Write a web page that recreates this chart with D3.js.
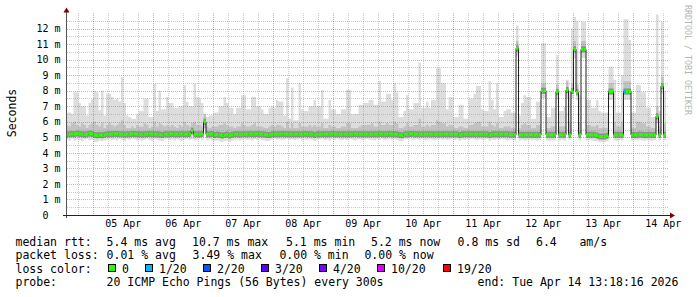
<!DOCTYPE html>
<html>
<head>
<meta charset="utf-8">
<script src="https://cdn.jsdelivr.net/npm/d3@7"></script>
<style>
body { margin: 0; background: #fff; }
svg text { font-family: "DejaVu Sans Mono", monospace; }
</style>
</head>
<body>
<script>
//graph end time and bin length (one bin = 1 hour)
var endTime = Date.UTC(2026, 3, 14, 13, 18, 16),
    spanDays = 10,
    binMs = 3600 * 1000;

//median rtt per bin (ms)
var rttMedian = [
  5.2,5.2,5.22,5.2,5.24,5.22,5.2,5.18,5.2,5.24,
  5.22,5.15,5.13,5.15,5.14,5.16,5.2,5.2,5.2,5.22,
  5.22,5.2,5.2,5.18,5.2,5.2,5.22,5.22,5.2,5.2,
  5.18,5.2,5.2,5.22,5.2,5.2,5.2,5.18,5.15,5.2,
  5.2,5.2,5.22,5.2,5.2,5.2,5.22,5.2,5.2,5.22,
  5.42,5.2,5.2,5.2,5.22,6.0,5.2,5.2,5.22,5.15,
  5.18,5.15,5.12,5.15,5.18,5.12,5.16,5.2,5.2,5.18,
  5.2,5.2,5.2,5.22,5.2,5.2,5.22,5.2,5.2,5.18,
  5.15,5.15,5.2,5.2,5.2,5.2,5.22,5.2,5.2,5.2,
  5.2,5.2,5.2,5.2,5.2,5.22,5.2,5.2,5.2,5.15,
  5.2,5.2,5.2,5.2,5.2,5.2,5.22,5.2,5.2,5.2,
  5.2,5.2,5.2,5.2,5.2,5.22,5.2,5.2,5.2,5.2,
  5.2,5.2,5.2,5.2,5.2,5.22,5.2,5.2,5.2,5.22,
  5.2,5.2,5.2,5.15,5.14,5.2,5.2,5.22,5.22,5.2,
  5.2,5.2,5.2,5.2,5.2,5.2,5.2,5.2,5.2,5.2,
  5.2,5.2,5.2,5.2,5.2,5.2,5.2,5.15,5.2,5.2,
  5.2,5.2,5.2,5.2,5.2,5.2,5.2,5.2,5.2,5.15,
  5.2,5.2,5.2,5.2,5.2,5.2,5.2,5.18,5.18,5.16,
  10.73,5.16,5.16,5.16,5.16,5.16,5.16,5.16,5.16,5.16,
  8.0,8.0,5.16,5.16,5.16,5.16,7.93,5.16,5.16,5.16,
  8.04,5.16,7.98,10.66,7.9,5.16,10.66,10.66,5.16,5.16,
  5.16,5.16,5.12,5.05,5.05,5.05,5.1,7.95,7.95,5.16,
  5.16,5.16,5.16,7.95,7.95,7.95,5.15,5.15,5.15,5.18,
  5.16,5.15,5.15,5.16,5.15,5.15,6.35,5.16,8.3,5.16
];

//highest ping per bin (ms)
var rttMax = [
  6.6,6.6,6.5,7.9,7.9,7.2,7.0,7.0,6.4,7.2,
  7.45,8.0,7.9,6.75,8.0,6.4,7.8,7.8,7.6,7.4,
  7.5,7.3,8.86,7.2,6.4,6.3,6.2,6.2,6.5,6.7,
  6.7,7.5,7.5,6.3,6.3,8.43,6.7,8.0,6.8,6.8,
  7.6,7.2,7.2,6.9,6.9,7.0,7.0,8.37,7.3,7.0,
  7.0,8.47,7.6,7.5,7.2,6.3,6.3,6.4,6.4,6.6,
  6.6,7.0,7.0,7.6,7.2,6.9,6.9,6.5,6.9,6.9,
  7.7,7.7,6.8,6.8,7.6,7.6,7.0,7.0,6.8,6.5,
  6.5,6.9,7.0,6.9,7.4,7.3,7.3,6.4,8.8,6.2,
  8.2,6.1,6.1,8.5,6.8,6.7,6.7,7.0,7.0,7.4,
  7.0,7.0,8.05,6.2,6.2,7.4,6.8,6.8,6.5,6.5,
  6.8,6.8,8.05,8.05,6.5,6.5,6.5,7.1,7.1,7.2,
  7.2,7.4,7.4,7.1,7.1,8.6,7.3,7.3,7.8,7.8,
  7.4,8.5,7.9,6.3,6.3,6.7,7.7,6.8,6.8,7.2,
  7.2,9.8,6.9,6.9,7.3,6.9,7.4,7.4,9.44,9.44,
  8.5,8.5,6.8,7.6,7.6,6.3,6.3,7.1,7.1,6.2,
  6.2,7.5,7.5,7.8,8.3,8.3,6.8,6.7,6.7,8.6,
  7.4,6.8,8.5,6.3,6.3,6.7,6.8,6.8,6.6,6.6,
  12.2,6.4,7.2,7.7,7.6,7.6,6.2,6.2,7.3,7.3,
  11.05,11.05,6.3,6.3,6.9,6.9,10.3,6.7,6.7,7.0,
  8.7,7.9,12.0,12.76,12.5,7.7,12.44,12.44,7.4,7.4,
  6.9,6.9,7.4,6.7,6.6,6.6,6.6,9.54,9.54,8.7,
  6.6,6.6,9.0,12.6,12.6,11.26,6.6,6.6,8.37,8.37,
  7.9,7.9,6.9,6.9,6.3,6.3,12.9,6.7,12.44,8.0
];

//upper edge of the dense smoke per bin (ms)
var rttUpper = [
  5.8,5.7,5.9,6.0,5.8,5.7,5.9,5.8,5.6,5.8,
  5.9,6.0,5.8,5.7,5.9,5.6,5.8,5.9,5.8,5.7,
  5.8,5.9,6.1,5.8,5.6,5.6,5.7,5.6,5.8,5.7,
  5.7,5.9,5.8,5.6,5.7,6.0,5.7,5.9,5.8,5.7,
  5.8,5.7,5.8,5.7,5.6,5.8,5.7,6.0,5.8,5.7,
  5.9,6.0,5.8,5.8,5.7,6.5,5.7,5.6,5.7,5.7,
  5.7,5.8,5.8,5.9,5.8,5.7,5.7,5.6,5.7,5.7,
  5.9,5.8,5.7,5.7,5.8,5.9,5.7,5.7,5.7,5.6,
  5.6,5.7,5.8,5.7,5.8,5.8,5.7,5.6,6.0,5.6,
  5.9,5.6,5.6,5.9,5.7,5.7,5.7,5.8,5.7,5.8,
  5.7,5.7,5.9,5.6,5.6,5.8,5.7,5.7,5.6,5.6,
  5.7,5.7,5.9,5.9,5.6,5.6,5.6,5.7,5.8,5.8,
  5.8,5.8,5.9,5.7,5.7,6.0,5.8,5.8,5.9,5.8,
  5.8,6.0,5.9,5.6,5.6,5.7,5.9,5.7,5.7,5.8,
  5.8,6.2,5.7,5.7,5.8,5.7,5.8,5.8,6.1,6.0,
  5.9,5.9,5.7,5.8,5.8,5.6,5.6,5.7,5.7,5.6,
  5.6,5.8,5.8,5.9,6.0,6.0,5.7,5.7,5.7,6.0,
  5.8,5.7,5.9,5.6,5.6,5.7,5.7,5.7,5.6,5.6,
  11.2,5.6,5.8,5.9,5.8,5.8,5.6,5.6,5.8,5.8,
  8.5,8.5,5.6,5.6,5.7,5.7,8.4,5.7,5.7,5.7,
  8.6,5.9,8.5,11.2,8.4,5.9,11.2,11.2,5.8,5.8,
  5.7,5.7,5.8,5.6,5.6,5.6,5.6,8.5,8.5,6.0,
  5.7,5.7,6.0,8.6,8.6,8.6,5.6,5.6,6.0,6.0,
  5.9,5.9,5.7,5.7,5.6,5.6,7.0,5.7,8.9,5.9
];

//lower edge of the dense smoke per bin (ms)
var rttLower = [
  5.02,5.0,5.03,5.0,5.05,5.02,5.0,4.98,5.0,5.04,
  5.02,4.96,4.94,4.96,4.95,4.97,5.0,5.0,5.0,5.02,
  5.02,5.0,5.0,4.98,5.0,5.0,5.02,5.02,5.0,5.0,
  4.98,5.0,5.0,5.02,5.0,5.0,5.0,4.98,4.96,5.0,
  5.0,5.0,5.02,5.0,5.0,5.0,5.02,5.0,5.0,5.02,
  5.1,5.0,5.0,5.0,5.02,5.6,5.0,5.0,5.02,4.96,
  4.98,4.96,4.93,4.96,4.98,4.93,4.97,5.0,5.0,4.98,
  5.0,5.0,5.0,5.02,5.0,5.0,5.02,5.0,5.0,4.98,
  4.96,4.96,5.0,5.0,5.0,5.0,5.02,5.0,5.0,5.0,
  5.0,5.0,5.0,5.0,5.0,5.02,5.0,5.0,5.0,4.96,
  5.0,5.0,5.0,5.0,5.0,5.0,5.02,5.0,5.0,5.0,
  5.0,5.0,5.0,5.0,5.0,5.02,5.0,5.0,5.0,5.0,
  5.0,5.0,5.0,5.0,5.0,5.02,5.0,5.0,5.0,5.02,
  5.0,5.0,5.0,4.96,4.95,5.0,5.0,5.02,5.02,5.0,
  5.0,5.0,5.0,5.0,5.0,5.0,5.0,5.0,5.0,5.0,
  5.0,5.0,5.0,5.0,5.0,5.0,5.0,4.96,5.0,5.0,
  5.0,5.0,5.0,5.0,5.0,5.0,5.0,5.0,5.0,4.96,
  5.0,5.0,5.0,5.0,5.0,5.0,5.0,4.98,4.98,4.97,
  10.5,4.97,4.97,4.97,4.97,4.97,4.97,4.97,4.97,4.97,
  7.8,7.8,4.97,4.97,4.97,4.97,7.73,4.97,4.97,4.97,
  7.84,4.97,7.78,10.46,7.7,4.97,10.46,10.46,4.97,4.97,
  4.97,4.97,4.93,4.87,4.87,4.87,4.92,7.75,7.75,4.97,
  4.97,4.97,4.97,7.75,7.75,7.75,4.96,4.96,4.96,4.98,
  4.97,4.96,4.96,4.97,4.96,4.96,6.15,4.97,8.1,4.97
];

//lowest ping per bin (ms)
var rttMin = [
  4.85,4.8,4.9,4.78,4.88,4.82,4.75,4.86,4.9,4.8,
  4.84,4.7,4.72,4.78,4.74,4.8,4.85,4.9,4.82,4.86,
  4.8,4.9,4.84,4.76,4.88,4.82,4.9,4.86,4.8,4.84,
  4.78,4.85,4.9,4.82,4.76,4.88,4.84,4.8,4.74,4.86,
  4.9,4.82,4.86,4.8,4.88,4.84,4.78,4.86,4.9,4.84,
  4.88,4.8,4.86,4.9,4.84,5.5,4.82,4.86,4.8,4.76,
  4.8,4.74,4.7,4.76,4.8,4.72,4.78,4.84,4.88,4.8,
  4.86,4.9,4.82,4.86,4.8,4.88,4.84,4.9,4.82,4.8,
  4.76,4.8,4.86,4.9,4.84,4.88,4.82,4.86,4.9,4.84,
  4.88,4.82,4.86,4.9,4.8,4.86,4.84,4.88,4.82,4.76,
  4.84,4.88,4.9,4.82,4.86,4.8,4.88,4.84,4.9,4.86,
  4.82,4.88,4.84,4.9,4.86,4.8,4.84,4.88,4.82,4.86,
  4.9,4.84,4.86,4.8,4.88,4.84,4.9,4.82,4.86,4.88,
  4.84,4.88,4.82,4.76,4.74,4.86,4.88,4.9,4.84,4.86,
  4.88,4.84,4.9,4.82,4.86,4.88,4.84,4.8,4.86,4.9,
  4.84,4.88,4.82,4.86,4.9,4.84,4.88,4.78,4.86,4.82,
  4.88,4.84,4.9,4.86,4.82,4.88,4.84,4.86,4.9,4.78,
  4.86,4.82,4.88,4.84,4.9,4.86,4.8,4.84,4.82,4.78,
  10.2,4.8,4.84,4.78,4.82,4.86,4.8,4.84,4.78,4.82,
  7.5,7.5,4.8,4.76,4.82,4.78,7.4,4.8,4.84,4.78,
  7.5,4.82,7.5,10.1,7.4,4.8,10.1,10.1,4.78,4.82,
  4.8,4.76,4.74,4.68,4.7,4.68,4.74,7.4,7.4,4.8,
  4.78,4.82,4.8,7.4,7.4,7.4,4.78,4.82,4.8,4.84,
  4.8,4.78,4.82,4.8,4.78,4.82,5.9,4.8,7.8,4.82
];

//lost pings (of 20) per bin
var lossCount = [
  0,0,0,0,0,0,0,0,0,0, 0,0,0,0,0,0,0,0,0,0, 0,0,0,0,0,0,0,0,0,0,
  0,0,0,0,0,0,0,0,0,0, 0,0,0,0,0,0,0,0,0,0, 0,0,0,0,0,0,0,0,0,0,
  0,0,0,0,0,0,0,0,0,0, 0,0,0,0,0,0,0,0,0,0, 0,0,0,0,0,0,0,0,0,0,
  0,0,0,0,0,0,0,0,0,0, 0,0,0,0,0,0,0,0,0,0, 0,0,0,0,0,0,0,0,0,0,
  0,0,0,0,0,0,0,0,0,0, 0,0,0,0,0,0,0,0,0,0, 0,0,0,0,0,0,0,0,0,0,
  0,0,0,0,0,0,0,0,0,0, 0,0,0,0,0,0,0,0,0,0, 0,0,0,0,0,0,0,0,0,0,
  0,0,0,0,0,0,0,0,0,0, 0,0,0,0,0,0,0,0,0,0, 0,0,0,0,0,0,0,0,0,0,
  0,0,0,0,0,0,0,0,0,0, 0,0,0,1,0,0,0,0,0,0, 0,0,0,0,0,0,0,0,0,0
];

//loss colour legend
var lossLevels = [0, 1, 2, 3, 4, 10, 19];
var lossLabels = ["0", "1/20", "2/20", "3/20", "4/20", "10/20", "19/20"];
var lossColors = ["#26ff00", "#00b8ff", "#0059ff", "#5e00ff", "#7e00ff", "#dd00ff", "#ff0000"];

//y axis ticks (ms)
var yTicks = [0, 1, 2, 3, 4, 5, 6, 7, 8, 9, 10, 11, 12];

//legend texts
var medianRow = ["median rtt:", "5.4 ms avg", "10.7 ms max", "5.1 ms min", "5.2 ms now", "0.8 ms sd", "6.4", "am/s"];
var lossRow = ["packet loss:", "0.01 % avg", "3.49 % max", "0.00 % min", "0.00 % now"];
var probeRow = ["probe:", "20 ICMP Echo Pings (56 Bytes) every 300s", "end: Tue Apr 14 13:18:16 2026"];

//frame dimensions
var width = 697,
    height = 297;

var svg = d3.select("body")
    .append("svg")
    .attr("width", width)
    .attr("height", height);

var startTime = endTime - spanDays * 86400 * 1000;

var x = d3.scaleUtc()
    .domain([startTime, endTime])
    .range([66, 666]);

var y = d3.scaleLinear()
    .domain([0, 13])
    .range([215, 13]);

//one record per bin, plus a closing record so the steps reach the right edge
var bins = rttMedian.map(function(m, i){
    return {t: startTime + i * binMs, med: m, max: rttMax[i], up: rttUpper[i],
            lo: rttLower[i], min: rttMin[i], loss: lossCount[i] || 0};
});
bins.push(Object.assign({}, bins[bins.length - 1], {t: endTime}));

function lossColor(n){
    var c = lossColors[0];
    lossLevels.forEach(function(l, k){ if (n >= l) c = lossColors[k]; });
    return c;
}

//smoke: outer band, dense band, core around the median
var band = function(lo, hi){
    return d3.area()
        .curve(d3.curveStepAfter)
        .x(function(d){ return x(d.t); })
        .y0(lo)
        .y1(hi);
};

svg.append("path")
    .datum(bins)
    .attr("fill", "#dddddd")
    .attr("d", band(function(d){ return y(d.min); }, function(d){ return y(Math.min(d.max, 13)); }));

svg.append("path")
    .datum(bins)
    .attr("fill", "#c2c2c2")
    .attr("d", band(function(d){ return y(d.lo); }, function(d){ return y(d.up); }));

svg.append("path")
    .datum(bins)
    .attr("fill", "#8e8e8e")
    .attr("d", band(function(d){ return y(d.med) + 3; }, function(d){ return y(d.med) - 3; }));

//grid
var grid = svg.append("g").attr("stroke-dasharray", "1,1").attr("stroke-width", 1);

var days = d3.utcDay.range(startTime, endTime);
var sixHours = d3.utcHour.every(6).range(startTime, endTime).filter(function(d){
    return d.getUTCHours() !== 0;
});

function px(v){ return Math.round(v) + 0.5; }

grid.selectAll(".minorX")
    .data(sixHours)
    .enter()
    .append("line")
    .attr("class", "minorX")
    .attr("x1", function(d){ return px(x(d)); })
    .attr("x2", function(d){ return px(x(d)); })
    .attr("y1", 13)
    .attr("y2", 215)
    .attr("stroke", "rgba(150,150,150,0.5)");

grid.selectAll(".minorY")
    .data(d3.range(0.5, 13, 1))
    .enter()
    .append("line")
    .attr("class", "minorY")
    .attr("x1", 67)
    .attr("x2", 668)
    .attr("y1", function(d){ return px(y(d)); })
    .attr("y2", function(d){ return px(y(d)); })
    .attr("stroke", "rgba(150,150,150,0.5)");

grid.selectAll(".majorX")
    .data(days)
    .enter()
    .append("line")
    .attr("class", "majorX")
    .attr("x1", function(d){ return px(x(d)); })
    .attr("x2", function(d){ return px(x(d)); })
    .attr("y1", 13)
    .attr("y2", 215)
    .attr("stroke", "rgba(215,60,60,0.45)");

grid.selectAll(".majorY")
    .data(yTicks.slice(1))
    .enter()
    .append("line")
    .attr("class", "majorY")
    .attr("x1", 67)
    .attr("x2", 668)
    .attr("y1", function(d){ return px(y(d)); })
    .attr("y2", function(d){ return px(y(d)); })
    .attr("stroke", "rgba(215,60,60,0.45)");

//median: dark step line, then loss-coloured segments
svg.append("path")
    .datum(bins)
    .attr("fill", "none")
    .attr("stroke", "#202020")
    .attr("stroke-width", 1)
    .attr("d", d3.line()
        .curve(d3.curveStepAfter)
        .x(function(d){ return x(d.t); })
        .y(function(d){ return y(d.med); }));

svg.selectAll(".med")
    .data(bins.slice(0, -1))
    .enter()
    .append("line")
    .attr("class", "med")
    .attr("x1", function(d){ return x(d.t); })
    .attr("x2", function(d){ return x(d.t + binMs); })
    .attr("y1", function(d){ return y(d.med); })
    .attr("y2", function(d){ return y(d.med); })
    .attr("stroke", function(d){ return lossColor(d.loss); })
    .attr("stroke-width", 3);

//axes labels
var noons = days.map(function(d){ return d3.utcHour.offset(d, 12); });

var xAxis = svg.append("g")
    .attr("transform", "translate(0,215)")
    .call(d3.axisBottom(x)
        .tickValues(noons)
        .tickFormat(d3.utcFormat("%d %b"))
        .tickSize(0));
xAxis.select(".domain").remove();
xAxis.selectAll("text")
    .attr("y", 11.5)
    .attr("dy", 0)
    .attr("fill", "#000")
    .style("font-family", "DejaVu Sans Mono")
    .style("font-size", "10px");

var yAxis = svg.append("g")
    .attr("transform", "translate(66.5,0)")
    .call(d3.axisLeft(y)
        .tickValues(yTicks)
        .tickFormat(function(d){ return d === 0 ? "0" : d + " m"; })
        .tickSize(0)
        .tickPadding(6));
yAxis.select(".domain").remove();
yAxis.selectAll("text")
    .attr("fill", "#000")
    .attr("dx", function(d){ return d === 0 ? -12 : 0; })
    .style("font-family", "DejaVu Sans Mono")
    .style("font-size", "10px");

//axis lines and arrows
svg.append("line")
    .attr("x1", 66.5).attr("x2", 66.5)
    .attr("y1", 12).attr("y2", 218)
    .attr("stroke", "#555");

svg.append("line")
    .attr("x1", 63).attr("x2", 670)
    .attr("y1", 215.5).attr("y2", 215.5)
    .attr("stroke", "#222");

svg.append("path")
    .attr("d", "M66.5,7.5L63.5,12.5L69.5,12.5Z")
    .attr("fill", "#800000");

svg.append("path")
    .attr("d", "M675,215.5L670,212.5L670,218.5Z")
    .attr("fill", "#800000");

//vertical labels
svg.append("text")
    .attr("transform", "translate(15.5,113) rotate(-90)")
    .attr("text-anchor", "middle")
    .style("font-size", "11.5px")
    .text("Seconds");

svg.append("text")
    .attr("transform", "translate(685,5) rotate(90)")
    .attr("fill", "#b4b4b4")
    .style("font-size", "8.3px")
    .text("RRDTOOL / TOBI OETIKER");

//legend
function legendLine(items, xs, baseline){
    svg.append("g")
        .selectAll("text")
        .data(items)
        .enter()
        .append("text")
        .attr("x", function(d, i){ return xs[i]; })
        .attr("y", baseline)
        .style("font-size", "11.5px")
        .style("white-space", "pre")
        .text(function(d){ return d; });
}

legendLine(medianRow, [15.5, 106.6, 192, 286, 371, 457.6, 536, 579.4], 245.5);
legendLine(lossRow, [15.5, 106.6, 192.6, 279.4, 364.4], 259);
legendLine(["loss color:"], [15.5], 272.5);
legendLine(probeRow, [15.5, 106.6, 477.6], 286);

var boxX = [108, 145, 203, 261, 319, 377, 443];

svg.selectAll(".lossBox")
    .data(lossColors)
    .enter()
    .append("rect")
    .attr("class", "lossBox")
    .attr("x", function(d, i){ return boxX[i] + 0.5; })
    .attr("y", 264.5)
    .attr("width", 7)
    .attr("height", 7)
    .attr("fill", function(d){ return d; })
    .attr("stroke", "#000");

svg.selectAll(".lossLabel")
    .data(lossLabels)
    .enter()
    .append("text")
    .attr("class", "lossLabel")
    .attr("x", function(d, i){ return boxX[i] + 14; })
    .attr("y", 272.5)
    .style("font-size", "11.5px")
    .text(function(d){ return d; });
</script>
</body>
</html>
